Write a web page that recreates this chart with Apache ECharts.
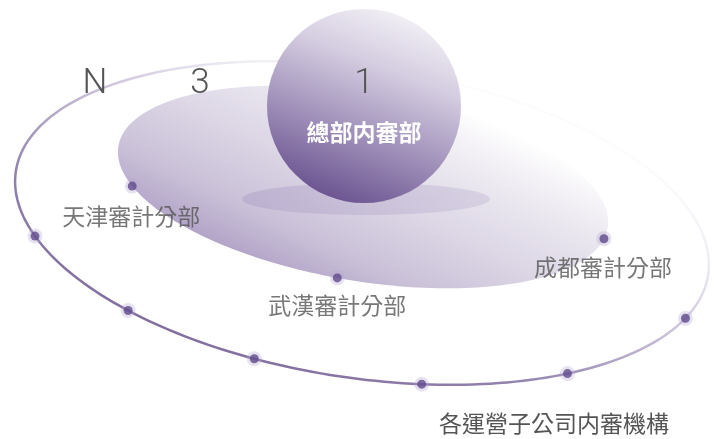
<!DOCTYPE html>
<html><head><meta charset="utf-8">
<script src="https://cdn.jsdelivr.net/npm/echarts@6/dist/echarts.min.js"></script>
<style>html,body{margin:0;padding:0;background:#fff}#c{width:714px;height:439px}</style>
</head><body><div id="c"></div>
<script>
// ---- data ----
const levelMarks = ['N', '3', '1'];
const headOfficeName = '總部内審部';
const branchNames = ['天津審計分部', '武漢審計分部', '成都審計分部'];
const branchAngles = [156.7, 92.4, 6.9];          // position along the middle tier (deg)
const subsidiaryName = '各運營子公司内審機構';
const subsidiaryAngles = [156.7, 128.6, 104.3, 76.3, 49.9, 17.4]; // position along outer tier (deg)

// ---- layout ----
const W = 714, H = 439;
const OUTER = {cx: 362, cy: 223, a: 350, b: 155, rot: 8.5};
const INNER = {cx: 363, cy: 187, a: 248, b: 94, rot: 9.5};
const CORE = {cx: 364, cy: 106, r: 97};
const SHADOW = {cx: 366, cy: 199, a: 124, b: 16, rot: 0};
const LEVEL_POS = [[95, 84], [200, 84], [364, 84]];
const BRANCH_OFFSETS = [[-1, 30], [0, 27], [-1, 28]];
const RING_LABEL_POS = [554, 423];
const CJK = '"Noto Sans CJK TC","Noto Sans CJK SC",sans-serif';

function onEllipse(E, tDeg) {
  const t = tDeg * Math.PI / 180, r = E.rot * Math.PI / 180;
  const u = E.a * Math.cos(t), v = E.b * Math.sin(t);
  return [E.cx + u * Math.cos(r) - v * Math.sin(r), E.cy + u * Math.sin(r) + v * Math.cos(r)];
}
function ellipsePts(E, api) {
  const pts = [];
  for (let i = 0; i <= 240; i++) pts.push(api.coord(onEllipse(E, i * 1.5)));
  return pts;
}
function lg(x, y, x2, y2, stops) {
  return {type: 'linear', x, y, x2, y2, colorStops: stops.map(s => ({offset: s[0], color: s[1]}))};
}

const outerDots = subsidiaryAngles.map(t => onEllipse(OUTER, t));
const branchDots = branchAngles.map((t, i) => ({
  value: onEllipse(INNER, t),
  label: {show: true, formatter: branchNames[i], position: 'inside', offset: BRANCH_OFFSETS[i],
          color: '#555', fontSize: 23, fontFamily: CJK}
}));

const chart = echarts.init(document.getElementById('c'), null, {renderer: 'canvas'});
chart.setOption({
  animation: false,
  grid: {left: 0, right: 0, top: 0, bottom: 0},
  xAxis: {type: 'value', min: 0, max: W, show: false},
  yAxis: {type: 'value', min: 0, max: H, inverse: true, show: false},
  series: [
    { // outer tier ring
      type: 'custom', z: 1, data: [[0, 0]],
      renderItem: (p, api) => ({
        type: 'polyline', shape: {points: ellipsePts(OUTER, api)},
        style: {fill: null, lineWidth: 2.5,
          stroke: lg(0.35, 1, 0.55, 0, [[0, '#7f6b9d'], [0.3, '#9383ae'], [0.62, '#cfc6dc'], [0.82, '#efecf4'], [1, '#fcfcfd']])}
      })
    },
    { // middle tier disc
      type: 'custom', z: 2, data: [[0, 0]],
      renderItem: (p, api) => ({
        type: 'polygon', shape: {points: ellipsePts(INNER, api)},
        style: {fill: lg(0.4, 1, 0.6, 0, [[0, '#b3a5c8'], [0.2, '#cac1d8'], [0.5, '#ddd7e6'], [0.75, '#ebe8f0'], [0.9, '#f6f4f8'], [1, '#fefefe']])}
      })
    },
    { // shadow under head office
      type: 'custom', z: 3, data: [[0, 0]],
      renderItem: (p, api) => ({
        type: 'polygon', shape: {points: ellipsePts(SHADOW, api)},
        style: {fill: lg(0, 0, 1, 0, [[0, 'rgba(170,155,195,0.45)'], [1, 'rgba(190,180,210,0.4)']])}
      })
    },
    { // head office sphere
      type: 'custom', z: 4, data: [[0, 0]],
      renderItem: (p, api) => {
        const c = api.coord([CORE.cx, CORE.cy]);
        return {
          type: 'circle', shape: {cx: c[0], cy: c[1], r: api.size([CORE.r, 0])[0]},
          style: {fill: lg(0.3, 1, 0.7, 0, [[0, '#674f8d'], [0.35, '#9e8eb8'], [0.7, '#d4cce0'], [1, '#f4f2f7']])},
          textContent: {style: {text: headOfficeName, fill: '#fff', fontSize: 23, fontWeight: 'bold', fontFamily: CJK}},
          textConfig: {position: 'inside', offset: [0, 26]}
        };
      }
    },
    { // dot halos
      type: 'scatter', z: 5, symbolSize: 15, silent: true,
      itemStyle: {color: 'rgba(180,165,205,0.4)'},
      data: outerDots.concat(branchDots.map(d => d.value))
    },
    { // dots
      type: 'scatter', z: 6, symbolSize: 9, silent: true,
      itemStyle: {color: '#5f4a8b'},
      data: outerDots.concat(branchDots)
    }
  ],
  graphic: levelMarks.map((m, i) => ({
    type: 'text', x: LEVEL_POS[i][0], y: LEVEL_POS[i][1], z: 10,
    style: {text: m, fill: '#555', fontSize: 35, fontWeight: 300, fontFamily: 'Roboto', align: 'center', verticalAlign: 'middle'}
  })).concat([{
    type: 'text', x: RING_LABEL_POS[0], y: RING_LABEL_POS[1], z: 10,
    style: {text: subsidiaryName, fill: '#555', fontSize: 23, fontFamily: CJK, align: 'center', verticalAlign: 'middle'}
  }])
});
</script></body></html>
